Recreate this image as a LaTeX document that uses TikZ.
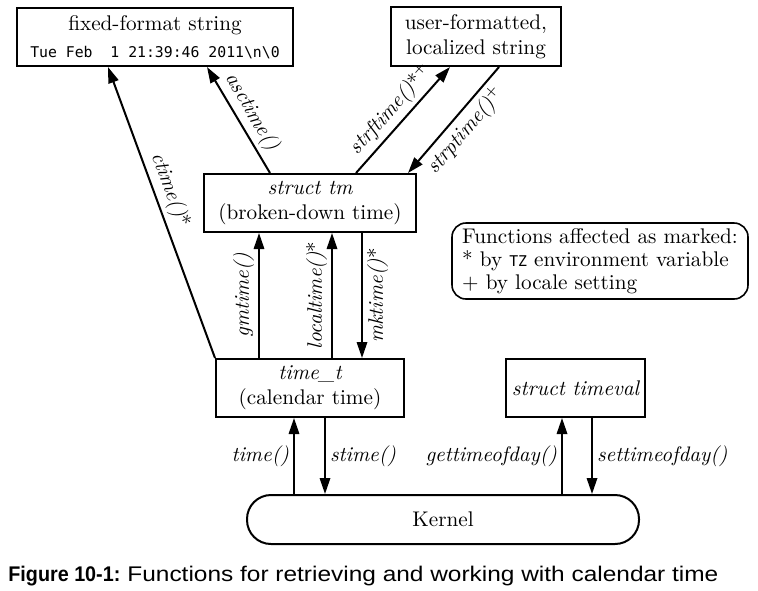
\documentclass[tikz,border=0pt]{standalone}
\usepackage{fontspec}
\usepackage{graphicx}
\newfontfamily\monof{DejaVu Sans Mono}
\newfontfamily\capf{Liberation Sans}
\usetikzlibrary{arrows.meta}
\newcommand\boxfont{\fontsize{10.6}{12.5}\selectfont}
\newcommand\legfont{\fontsize{10.6}{11.4}\selectfont}
\newcommand\labfont{\fontsize{10.5}{12}\selectfont\itshape}
\begin{document}
\begin{tikzpicture}[x=0.5pt,y=-0.5pt,
  box/.style={draw, line width=1pt, inner sep=0pt, align=center, font=\boxfont},
  arr/.style={line width=1pt, -{Triangle[length=8pt,width=5.2pt]}},
  lab/.style={font=\labfont, inner sep=2pt},
]
\useasboundingbox (0,0) rectangle (758,590);
\node[box, minimum width=138pt, minimum height=29pt] (fixed) at (155,37)
  {fixed-format string\\[1pt]{\monof\fontsize{7.4}{9}\selectfont Tue Feb\ \ 1 21:39:46 2011\textbackslash n\textbackslash 0}};
\node[box, minimum width=85pt, minimum height=29.5pt] (user) at (476,36.5)
  {user-formatted,\\localized string};
\node[box, minimum width=106pt, minimum height=29pt] (tm) at (310,203)
  {{\itshape struct tm}\\(broken-down time)};
\node[box, minimum width=94pt, minimum height=29pt] (tt) at (310,388)
  {{\itshape time\_t}\\(calendar time)};
\node[box, minimum width=69.5pt, minimum height=29pt] (tv) at (575.5,388)
  {{\itshape struct timeval}};
\node[box, rounded corners=12pt, minimum width=196pt, minimum height=24.5pt] (kernel) at (443,519.5)
  {Kernel};
\node[draw, line width=0.8pt, rounded corners=7pt, align=left, font=\legfont, inner sep=0pt,
      minimum width=148pt, minimum height=38pt] (legend) at (600,261)
  {Functions affected as marked:\\
   * by {\monof\fontsize{7.4}{9}\selectfont TZ} environment variable\\
   + by locale setting};
% connectors
\draw[arr] (tt.north west) -- node[lab, sloped, above, pos=0.56] {ctime(){\upshape *}} (108,0 |- fixed.south);
\draw[arr] (270,0 |- tm.north) -- node[lab, sloped, above, midway] {asctime()} (207,0 |- fixed.south);
\draw[arr] (356,0 |- tm.north) -- node[lab, sloped, above, midway] {strftime(){\upshape *}\textsuperscript{\upshape +}} (450,0 |- user.south);
\draw[arr] (499,0 |- user.south) -- node[lab, sloped, below, midway] {strptime()\textsuperscript{\upshape +}} (408,0 |- tm.north);
\draw[arr] (259,0 |- tt.north) -- node[lab, midway, rotate=90, above] {gmtime()} (259,0 |- tm.south);
\draw[arr] (332,0 |- tt.north) -- node[lab, midway, rotate=90, above] {localtime(){\upshape *}} (332,0 |- tm.south);
\draw[arr] (362,0 |- tm.south) -- node[lab, midway, rotate=90, below] {mktime(){\upshape *}} (362,0 |- tt.north);
\draw[arr] (294,0 |- kernel.north) -- node[lab, midway, left] {time()} (294,0 |- tt.south);
\draw[arr] (325,0 |- tt.south) -- node[lab, midway, right] {stime()} (325,0 |- kernel.north);
\draw[arr] (562,0 |- kernel.north) -- node[lab, midway, left] {gettimeofday()} (562,0 |- tv.south);
\draw[arr] (592,0 |- tv.south) -- node[lab, midway, right] {settimeofday()} (592,0 |- kernel.north);
\node[anchor=base west, inner sep=0pt] (cap) at (8,581)
  {\capf\fontsize{10.6}{12}\selectfont\resizebox{56pt}{\height}{\textbf{Figure 10-1:}}\hspace{3.5pt}\resizebox{295.5pt}{\height}{Functions for retrieving and working with calendar time}};
\end{tikzpicture}
\end{document}
